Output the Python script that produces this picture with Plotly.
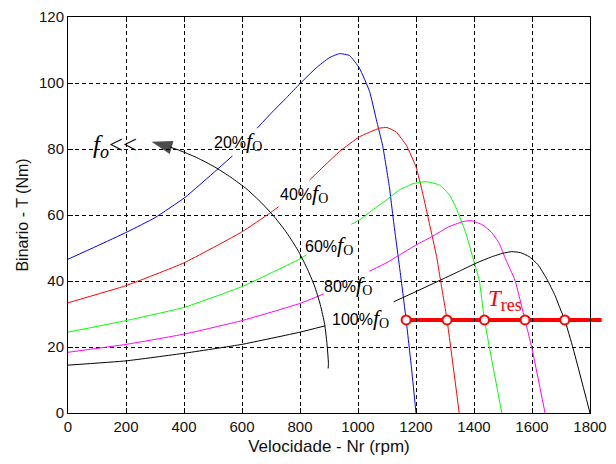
import plotly.graph_objects as go

# ---------------- data ----------------
speed_ticks = [0, 200, 400, 600, 800, 1000, 1200, 1400, 1600, 1800]
torque_ticks = [0, 20, 40, 60, 80, 100, 120]
X_RANGE = [0, 1800]
Y_RANGE = [0, 120]

# torque-speed curves (None = gap where the label sits)
c20_x = [0, 100, 207, 300, 403, 512, 567, None, 652, 700, 754, 800, 856, 900, 936, 971, 1005, 1040, 1063, 1085, 1108, 1122, 1149, 1166, 1184, 1200]
c20_y = [46.6, 50.6, 55.0, 59.2, 65.3, 73.6, 77.9, None, 86.3, 90.8, 95.6, 99.8, 104.6, 107.6, 108.9, 108.3, 104.5, 97.4, 89.0, 81.0, 68.6, 58.5, 40.3, 28.2, 14.0, 0]

c40_x = [0, 200, 400, 600, 695, 726, None, 833, 936, 1005, 1074, 1100, 1131, 1166, 1200, 1223, 1246, 1271, 1284, 1307, 1349]
c40_y = [33.4, 38.6, 45.5, 54.9, 60.5, 62.5, None, 70.6, 79.2, 83.7, 86.3, 86.5, 85.2, 81.2, 74.6, 66.6, 57.5, 47.4, 40.5, 28.2, 0]

c60_x = [0, 200, 400, 600, 800, 822, None, 977, 1005, 1050, 1097, 1143, 1190, 1235, 1281, 1315, 1340, 1372, 1395, 1418, 1436, 1496]
c60_y = [24.5, 28.0, 32.0, 38.3, 46.7, 47.9, None, 57.2, 58.5, 61.5, 64.5, 67.6, 69.5, 70.1, 69.1, 66.1, 61.8, 54.5, 47.4, 40.3, 28.2, 0]

c80_x = [0, 200, 400, 600, 800, 882, None, 1040, 1100, 1143, 1200, 1258, 1310, 1361, 1390, 1430, 1460, 1487, 1510, 1541, 1576, 1600, 1645]
c80_y = [18.4, 20.8, 23.9, 28.0, 33.2, 36.1, None, 43.0, 45.6, 47.9, 50.9, 53.6, 56.3, 58.0, 58.3, 57.0, 54.8, 51.4, 46.4, 40.3, 28.2, 19.5, 0]

c100_x = [0, 200, 400, 600, 800, 886, None, 1123, 1200, 1290, 1350, 1407, 1460, 1499, 1530, 1560, 1590, 1620, 1652, 1680, 1699, 1713, 1742, 1800]
c100_y = [14.5, 15.8, 18.1, 20.8, 24.5, 26.4, None, 33.7, 36.8, 40.5, 43.0, 45.4, 47.3, 48.4, 48.9, 48.6, 47.4, 45.0, 40.5, 35.5, 31.2, 28.2, 19.5, 0]

curve_colors = ["#0000ff", "#ff0000", "#00ff00", "#ff00ff", "#000000"]
curve_labels = ["20%", "40%", "60%", "80%", "100%"]
label_x = [496, 724, 811, 877, 903]
label_y = [82.4, 66.7, 50.9, 38.8, 28.7]

# load torque line and its operating points
TRES = 28.2
tres_x = [1150, 1840]
op_speeds = [1166, 1307, 1436, 1576, 1713]

# curved arrow ("f_o <<")
arc_x = [897, 898, 893, 885, 870, 850, 823, 792, 755, 713, 667, 617, 562, 505, 444, 381, 351]
arc_y = [13.5, 15.0, 21.0, 26.9, 32.8, 38.5, 44.1, 49.4, 54.5, 59.3, 63.7, 67.8, 71.4, 74.6, 77.4, 79.7, 80.6]
arrow_x = [351, 288]
arrow_y = [80.6, 82.2]
fo_label_x, fo_label_y = 80, 80.7
tres_label_x, tres_label_y = 1440, 34.0

SERIF = "Liberation Serif"
SANS = "Liberation Sans"

fig = go.Figure()

curves = [(c20_x, c20_y), (c40_x, c40_y), (c60_x, c60_y), (c80_x, c80_y), (c100_x, c100_y)]
for (cx, cy), col in zip(curves, curve_colors):
    fig.add_trace(go.Scatter(x=cx, y=cy, mode="lines", connectgaps=False,
                             line=dict(color=col, width=1, shape="spline", smoothing=0.4),
                             hoverinfo="skip", showlegend=False))

# arc + arrow head
fig.add_trace(go.Scatter(x=arc_x, y=arc_y, mode="lines",
                         line=dict(color="black", width=1, shape="spline", smoothing=0.6),
                         hoverinfo="skip", showlegend=False))
fig.add_trace(go.Scatter(x=arrow_x, y=arrow_y, mode="markers",
                         marker=dict(symbol="arrow", size=[0, 22], color="black",
                                     angleref="previous", line=dict(width=0)),
                         hoverinfo="skip", showlegend=False, cliponaxis=False))

# red load line (extends a little past the axes, like the original)
span = X_RANGE[1] - X_RANGE[0]
fig.add_shape(type="line", xref="paper", yref="y",
              x0=(tres_x[0] - X_RANGE[0]) / span, x1=(tres_x[1] - X_RANGE[0]) / span,
              y0=TRES, y1=TRES, line=dict(color="#ff0000", width=4), layer="between")
fig.add_trace(go.Scatter(x=op_speeds, y=[TRES] * len(op_speeds), mode="markers",
                         marker=dict(symbol="circle", size=9, color="white",
                                     line=dict(color="#ff0000", width=2)),
                         hoverinfo="skip", showlegend=False, cliponaxis=False))

# curve labels
for lab, lx, ly in zip(curve_labels, label_x, label_y):
    fig.add_annotation(
        x=lx, y=ly, xref="x", yref="y", xanchor="left", yanchor="middle", showarrow=False,
        text=(f"{lab}<span style='font-family:{SERIF};font-size:22px'><i>f</i></span>"
              f"<sub><span style='font-family:{SERIF};font-size:14px'>O</span></sub>"),
        font=dict(family=SANS, size=16, color="black"))

fig.add_annotation(
    x=fo_label_x, y=fo_label_y, xref="x", yref="y", xanchor="left", yanchor="middle", showarrow=False,
    text="<i>f</i><sub><span style='font-size:18px'><i>o</i></span></sub>&lt;&lt;",
    font=dict(family=SERIF, size=25, color="black"))

fig.add_annotation(
    x=tres_label_x, y=tres_label_y, xref="x", yref="y", xanchor="left", yanchor="middle", showarrow=False,
    text="<i>T</i><sub><span style='font-size:18px'>res</span></sub>",
    font=dict(family=SERIF, size=23, color="#ff0000"))

axis_common = dict(
    showline=True, linecolor="black", linewidth=1, mirror="ticks",
    ticks="inside", ticklen=5, tickcolor="black",
    showgrid=True, gridcolor="black", gridwidth=1, griddash="4px,3px",
    zeroline=False, tickfont=dict(family=SANS, size=15, color="#111111"),
    automargin=False,
)

fig.update_xaxes(range=X_RANGE, tickvals=speed_ticks, ticktext=[str(v) for v in speed_ticks],
                 title=dict(text="Velocidade - Nr (rpm)", font=dict(family=SANS, size=17, color="#111111"),
                            standoff=10),
                 **axis_common)
fig.update_yaxes(range=Y_RANGE, tickvals=torque_ticks, ticktext=[str(v) for v in torque_ticks],
                 title=dict(text="Binario - T (Nm)", font=dict(family=SANS, size=16, color="#111111"),
                            standoff=6),
                 **axis_common)

# the page adds an 8px body margin, so the figure is 16px smaller than the window
fig.update_layout(
    width=600, height=448,
    margin=dict(l=60, r=18, t=9, b=43),
    paper_bgcolor="white", plot_bgcolor="white",
    showlegend=False, hovermode=False,
    font=dict(family=SANS, color="black"),
)

fig.write_html("out.html")
